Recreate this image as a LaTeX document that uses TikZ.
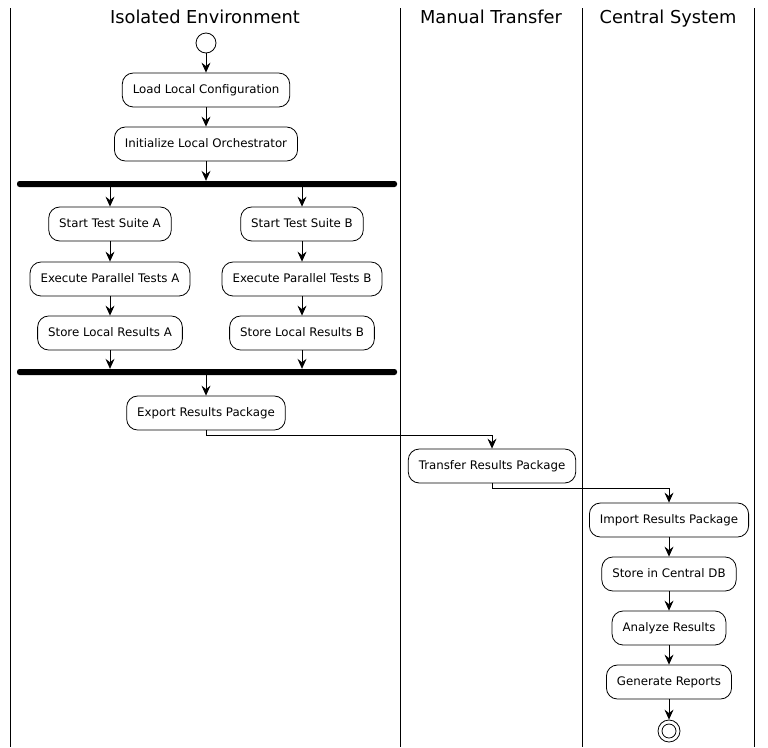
\documentclass[tikz,border=0pt]{standalone}
\usepackage{fontspec}
\setmainfont{DejaVu Sans}
\usetikzlibrary{arrows.meta}
\begin{document}
\begin{tikzpicture}[x=1pt,y=-1pt,
  act/.style={draw,rounded corners=11pt,minimum height=34pt,inner xsep=10.5pt,text height=9pt,text depth=2.5pt,font=\fontsize{11.8}{14}\selectfont,line width=0.8pt},
  bar/.style={fill=black,rounded corners=2.5pt,minimum width=380pt,minimum height=6pt,inner sep=0pt},
  lane/.style={line width=0.8pt},
  title/.style={font=\fontsize{17.8}{21}\selectfont,text height=13pt,text depth=4pt},
  arr/.style={-{Stealth[length=10pt,width=9pt,inset=3.5pt]},line width=0.8pt}]
\useasboundingbox (0,0) rectangle (768,747);
% lanes
\draw[lane] (10,8) -- (10,747);
\draw[lane] (400,8) -- (400,747);
\draw[lane] (582,8) -- (582,747);
\draw[lane] (754,8) -- (754,747);
\node[title] (t1) at (205,19) {Isolated Environment};
\node[title] (t2) at (491,19) {Manual Transfer};
\node[title] (t3) at (668,19) {Central System};
% nodes
\node[draw,circle,minimum size=20pt,inner sep=0pt,line width=0.8pt] (start) at (206,43) {};
\node[act] (load) at (206,90) {Load Local Configuration};
\node[act] (init) at (206,144) {Initialize Local Orchestrator};
\node[bar] (fork) at (207,184) {};
\node[act] (sa) at (110,224) {Start Test Suite A};
\node[act] (sb) at (302,224) {Start Test Suite B};
\node[act] (ea) at (110,279) {Execute Parallel Tests A};
\node[act] (eb) at (302,279) {Execute Parallel Tests B};
\node[act] (ra) at (110,333) {Store Local Results A};
\node[act] (rb) at (302,333) {Store Local Results B};
\node[bar] (join) at (207,372) {};
\node[act] (exp) at (206,413) {Export Results Package};
\node[act] (tr) at (492,466) {Transfer Results Package};
\node[act] (imp) at (669,520) {Import Results Package};
\node[act] (db) at (669,574) {Store in Central DB};
\node[act] (an) at (669,628) {Analyze Results};
\node[act] (gen) at (669,682) {Generate Reports};
\node[draw,circle,minimum size=22pt,inner sep=0pt,line width=0.8pt] (end) at (669,731) {};
\node[draw,circle,minimum size=14pt,inner sep=0pt,line width=0.8pt] (endi) at (669,731) {};
% connectors
\draw[arr] (start) -- (load);
\draw[arr] (load) -- (init);
\draw[arr] (init.south) -- (init.south |- fork.north);
\draw[arr] (fork.south -| sa) -- (sa);
\draw[arr] (fork.south -| sb) -- (sb);
\draw[arr] (sa) -- (ea);
\draw[arr] (sb) -- (eb);
\draw[arr] (ea) -- (ra);
\draw[arr] (eb) -- (rb);
\draw[arr] (ra.south) -- (ra.south |- join.north);
\draw[arr] (rb.south) -- (rb.south |- join.north);
\draw[arr] (join.south -| exp) -- (exp);
\draw[arr] (exp.south) -- ([yshift=-5pt]exp.south) -| (tr.north);
\draw[arr] (tr.south) -- ([yshift=-5pt]tr.south) -| (imp.north);
\draw[arr] (imp) -- (db);
\draw[arr] (db) -- (an);
\draw[arr] (an) -- (gen);
\draw[arr] (gen) -- (end);
\end{tikzpicture}
\end{document}
